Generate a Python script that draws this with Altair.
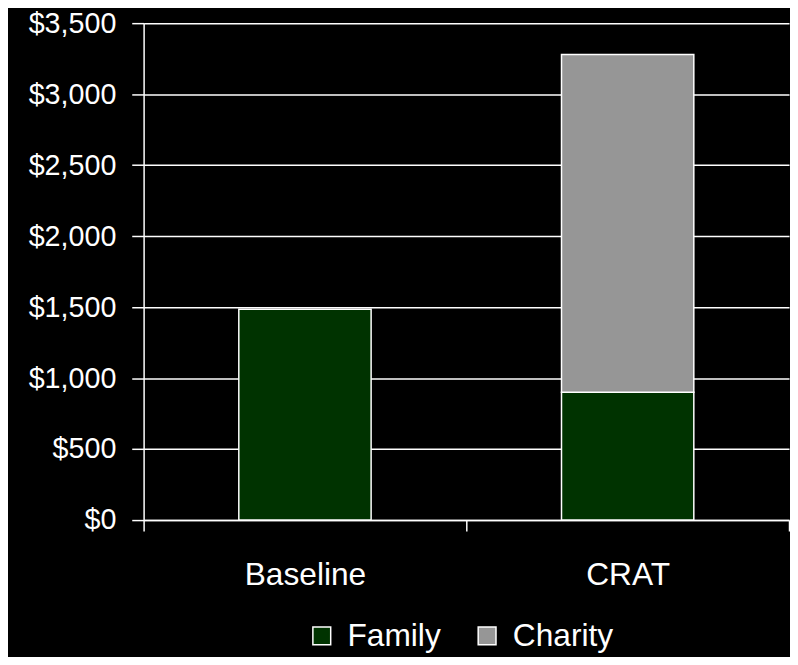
import altair as alt
import pandas as pd

scenarios = ["Baseline", "CRAT", "CRAT"]
recipients = ["Family", "Family", "Charity"]
amounts = [1485, 900, 2380]
stack_order = [0, 0, 1]

legend_domain = ["Family", "Charity"]
legend_colors = ["#003300", "#969696"]
y_ticks = [0, 500, 1000, 1500, 2000, 2500, 3000, 3500]

df = pd.DataFrame({
    "Scenario": scenarios,
    "Recipient": recipients,
    "Amount": amounts,
    "Order": stack_order,
})

FONT = "Liberation Sans"

chart = alt.Chart(df).mark_bar(
    width=alt.RelativeBandSize(0.41), stroke="white", strokeWidth=1.5
).encode(
    x=alt.X(
        "Scenario:N",
        sort=["Baseline", "CRAT"],
        scale=alt.Scale(paddingInner=0, paddingOuter=0),
        axis=alt.Axis(
            title=None, labelAngle=0, tickBand="extent", grid=False,
            labelFont=FONT, labelFontSize=32, labelColor="white",
            labelPadding=29, tickSize=11, tickColor="white", tickWidth=1.5,
            domainColor="white", domainWidth=1.5,
        ),
    ),
    y=alt.Y(
        "Amount:Q",
        stack="zero",
        scale=alt.Scale(domain=[0, 3500], nice=False),
        axis=alt.Axis(
            title=None, values=y_ticks, format="$,.0f",
            labelFont=FONT, labelFontSize=29, labelColor="white",
            labelPadding=16, tickSize=12, tickColor="white", tickWidth=1.5,
            domainColor="white", domainWidth=1.5,
            grid=True, gridColor="white", gridWidth=1.5, gridOpacity=1,
        ),
    ),
    color=alt.Color(
        "Recipient:N",
        scale=alt.Scale(domain=legend_domain, range=legend_colors),
        legend=alt.Legend(
            title=None, orient="none", legendX=164, legendY=603,
            direction="horizontal", symbolType="square", symbolSize=324,
            symbolStrokeColor="white", symbolStrokeWidth=1.5, symbolOpacity=1,
            labelFont=FONT, labelFontSize=32, labelColor="white",
            labelOffset=10, columnPadding=30,
        ),
    ),
    order=alt.Order("Order:Q", sort="ascending"),
).properties(
    width=652,
    height=502,
    padding={"left": 137, "top": 12, "right": 1, "bottom": 135},
    autosize=alt.AutoSizeParams(type="none"),
).configure(
    background="black",
).configure_view(
    stroke=None,
)

chart.save("out.html", embed_options={"renderer": "svg", "actions": False})
